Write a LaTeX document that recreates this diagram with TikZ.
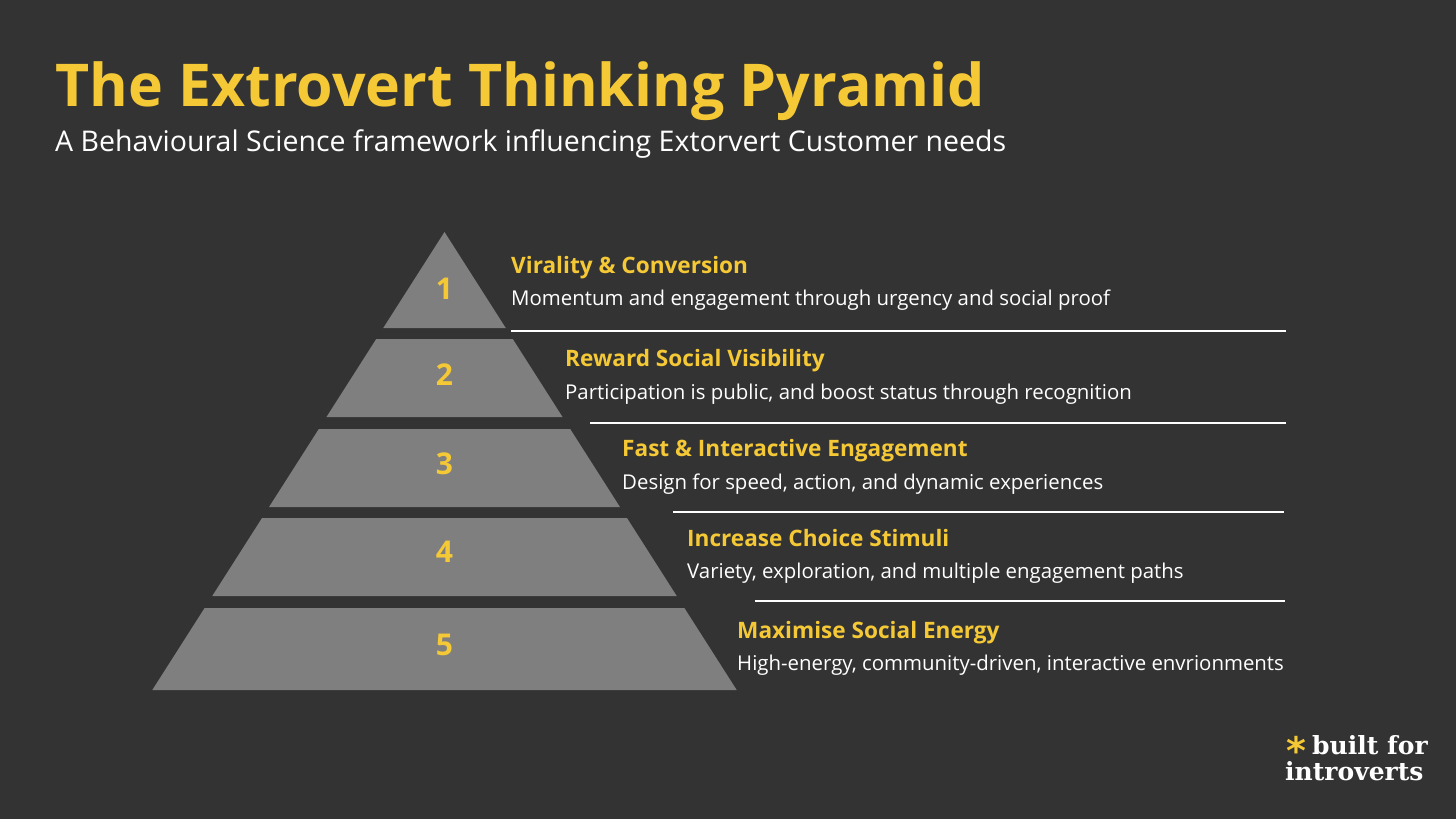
\documentclass[tikz,border=0pt]{standalone}
\usepackage{fontspec}
\setmainfont{Open Sans}
\newfontfamily\logofont{DejaVu Serif}
\newfontfamily\starfont{DejaVu Sans}
\definecolor{bg}{HTML}{333333}
\definecolor{yl}{HTML}{F5C936}
\definecolor{gr}{HTML}{7F7F7F}
\begin{document}
\begin{tikzpicture}[x=1pt,y=-1pt,
  layer/.style={fill=gr,draw=none},
  num/.style={text=yl,font=\fontsize{30}{30}\selectfont\bfseries,anchor=center},
  ttl/.style={text=yl,font=\fontsize{22.6}{22.6}\selectfont\bfseries,anchor=base west,inner sep=0},
  dsc/.style={text=white,font=\fontsize{20.4}{20.4}\selectfont,anchor=base west,inner sep=0},
  sep/.style={white,line width=1.2pt},
  logo/.style={anchor=base west,inner sep=0,text=white,font=\logofont\bfseries\fontsize{25}{25}\selectfont}]
\fill[bg] (0,0) rectangle (1456,819);
\useasboundingbox (0,0) rectangle (1456,819);
\node[anchor=base west,inner sep=0,text=yl,font=\fontsize{59}{59}\selectfont\bfseries] (title) at (55,106) {The Extrovert Thinking Pyramid};
\node[anchor=base west,inner sep=0,text=white,font=\fontsize{28.5}{28.5}\selectfont] (sub) at (55,151) {A Behavioural Science framework influencing Extorvert Customer needs};
\foreach \t/\b/\n in {232/328/1,339/417/2,429/507/3,518/596/4,608/690/5}{
  \fill[layer] ({444.5-(\t-232)*0.638},\t) -- ({444.5+(\t-232)*0.638},\t) -- ({444.5+(\b-232)*0.638},\b) -- ({444.5-(\b-232)*0.638},\b) -- cycle;
}
\node[num] (n1) at (444.5,289) {1};
\node[num] (n2) at (444.5,375) {2};
\node[num] (n3) at (444.5,464) {3};
\node[num] (n4) at (444.5,552) {4};
\node[num] (n5) at (444.5,645) {5};
\node[ttl] (t1) at (511,273) {Virality \& Conversion};
\node[dsc] (d1) at (511,305) {Momentum and engagement through urgency and social proof};
\node[ttl] (t2) at (565,366) {Reward Social Visibility};
\node[dsc] (d2) at (565,399) {Participation is public, and boost status through recognition};
\node[ttl] (t3) at (622,456) {Fast \& Interactive Engagement};
\node[dsc] (d3) at (622,489) {Design for speed, action, and dynamic experiences};
\node[ttl] (t4) at (687,546) {Increase Choice Stimuli};
\node[dsc] (d4) at (687,578) {Variety, exploration, and multiple engagement paths};
\node[ttl] (t5) at (737,638) {Maximise Social Energy};
\node[dsc] (d5) at (737,670) {High-energy, community-driven, interactive envrionments};
\coordinate (a1) at (511,331); \coordinate (b1) at (1286,331);
\coordinate (a2) at (590,423); \coordinate (b2) at (1286,423);
\coordinate (a3) at (673,512); \coordinate (b3) at (1284,512);
\coordinate (a4) at (755,601); \coordinate (b4) at (1285,601);
\foreach \i in {1,...,4}{\draw[sep] (a\i) -- (b\i);}
\node[inner sep=0,text=yl,font=\starfont\bfseries\fontsize{38}{38}\selectfont] (star) at (1296,750) {*};
\node[logo] (l1) at (1312,754) {built for};
\node[logo] (l2) at (1285,780) {introverts};
\end{tikzpicture}
\end{document}
